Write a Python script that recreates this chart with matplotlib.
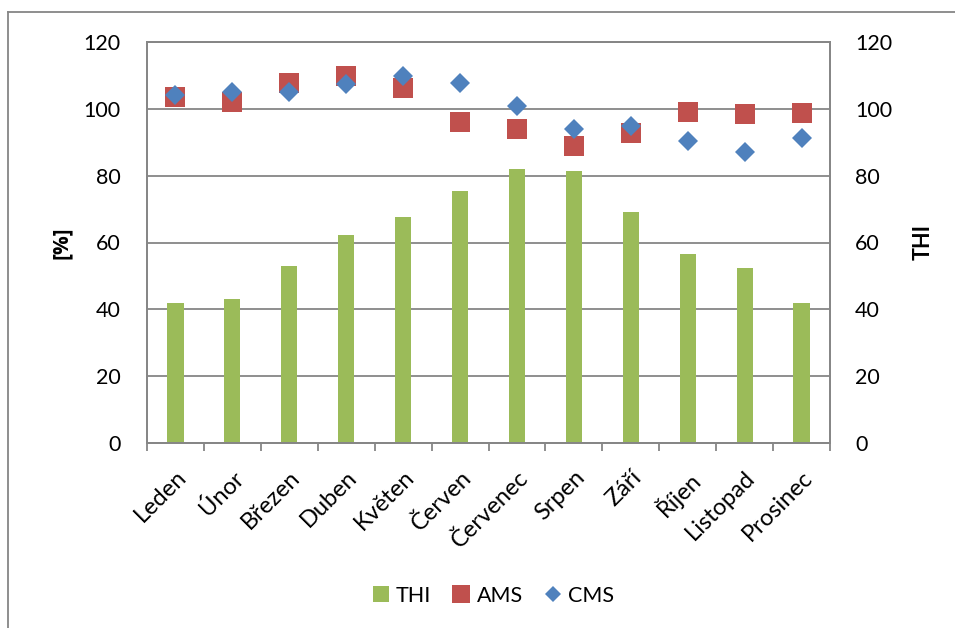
import matplotlib
matplotlib.use('Agg')
import matplotlib.pyplot as plt
from matplotlib.lines import Line2D
import numpy as np

plt.rcParams['font.family'] = ['Lato', 'DejaVu Sans']

# monthly values
months = ['Leden', 'Únor', 'Březen', 'Duben', 'Květen', 'Červen',
          'Červenec', 'Srpen', 'Září', 'Říjen', 'Listopad', 'Prosinec']
thi = [42.0, 43.2, 52.9, 62.3, 67.5, 75.5, 81.9, 81.4, 69.0, 56.5, 52.4, 41.9]
ams = [103.4, 102.1, 107.6, 109.9, 106.2, 96.1, 94.0, 89.0, 92.8, 99.0, 98.4, 98.8]
cms = [104.1, 105.1, 105.1, 107.3, 109.9, 107.7, 100.7, 94.0, 94.8, 90.5, 87.2, 91.3]

yticks = [0, 20, 40, 60, 80, 100, 120]

green = '#9BBB59'
red = '#C0504D'
blue = '#4F81BD'
gray = '#868686'
fs = 15.5

fig = plt.figure(figsize=(9.55, 6.28), dpi=100)
W, H = 955, 628
ax2 = fig.add_axes([147 / W, (H - 443) / H, 683 / W, 401 / H])  # THI axis (right)
ax = ax2.twinx()  # percent axis, drawn on top
ax.yaxis.tick_left()
ax.yaxis.set_label_position('left')
ax2.yaxis.tick_right()
ax2.yaxis.set_label_position('right')
ax.set_zorder(ax2.get_zorder() + 1)
ax.patch.set_visible(False)

x = np.arange(len(months))

# bars + grid on the THI axis
ax2.bar(x, thi, width=0.285, color=green, zorder=2)
ax2.set_axisbelow(True)
ax2.grid(axis='y', color=gray, linewidth=1.3)
ax2.set_ylim(0, 120)
ax2.set_yticks(yticks)
ax2.set_xlim(-0.5, len(months) - 0.5)

# markers on the percent axis
ax.plot(x, ams, linestyle='none', marker='s', markersize=14.4,
        color=red, markeredgewidth=0)
ax.plot(x, cms, linestyle='none', marker='D', markersize=10.2,
        color=blue, markeredgewidth=0)
ax.set_ylim(0, 120)
ax.set_yticks(yticks)
ax.set_xlim(-0.5, len(months) - 0.5)

for a in (ax, ax2):
    for s in a.spines.values():
        s.set_color(gray)
        s.set_linewidth(1.3)
    a.tick_params(axis='y', length=0, labelsize=fs)

ax.tick_params(axis='y', pad=19)
ax2.tick_params(axis='y', pad=18)

# category boundaries as tick marks, labels at centres
ax2.set_xticks(np.arange(-0.5, len(months)), minor=True)
ax2.set_xticks(x)
ax2.set_xticklabels(months, rotation=45, ha='right', rotation_mode='anchor',
                    fontsize=17)
ax2.tick_params(axis='x', which='major', length=0, pad=17)
ax2.tick_params(axis='x', which='minor', length=6, color=gray, width=1.3)
ax.tick_params(axis='x', which='both', length=0, labelbottom=False)

ax.set_ylabel('[%]', fontsize=15, fontweight='bold', labelpad=8,
              family=['Open Sans', 'DejaVu Sans'])
ax2.set_ylabel('THI', fontsize=fs, fontweight='bold', labelpad=15, rotation=90)

# legend at the bottom
handles = [
    Line2D([], [], linestyle='none', marker='s', markersize=11, color=green, markeredgewidth=0),
    Line2D([], [], linestyle='none', marker='s', markersize=12.5, color=red, markeredgewidth=0),
    Line2D([], [], linestyle='none', marker='D', markersize=8.5, color=blue, markeredgewidth=0),
]
fig.legend(handles, ['THI', 'AMS', 'CMS'], loc='center', ncol=3,
           bbox_to_anchor=(493 / W, 1 - 596 / H), frameon=False, fontsize=15.5,
           handlelength=0.8, handletextpad=0.3, columnspacing=1.0)

# outer chart border (left and top edges)
fig.add_artist(Line2D([8 / W, 8 / W], [0, 1 - 12 / H], color=gray, linewidth=1.3))
fig.add_artist(Line2D([8 / W, 1], [1 - 12 / H, 1 - 12 / H], color=gray, linewidth=1.3))

fig.savefig('out.png', dpi=100)
